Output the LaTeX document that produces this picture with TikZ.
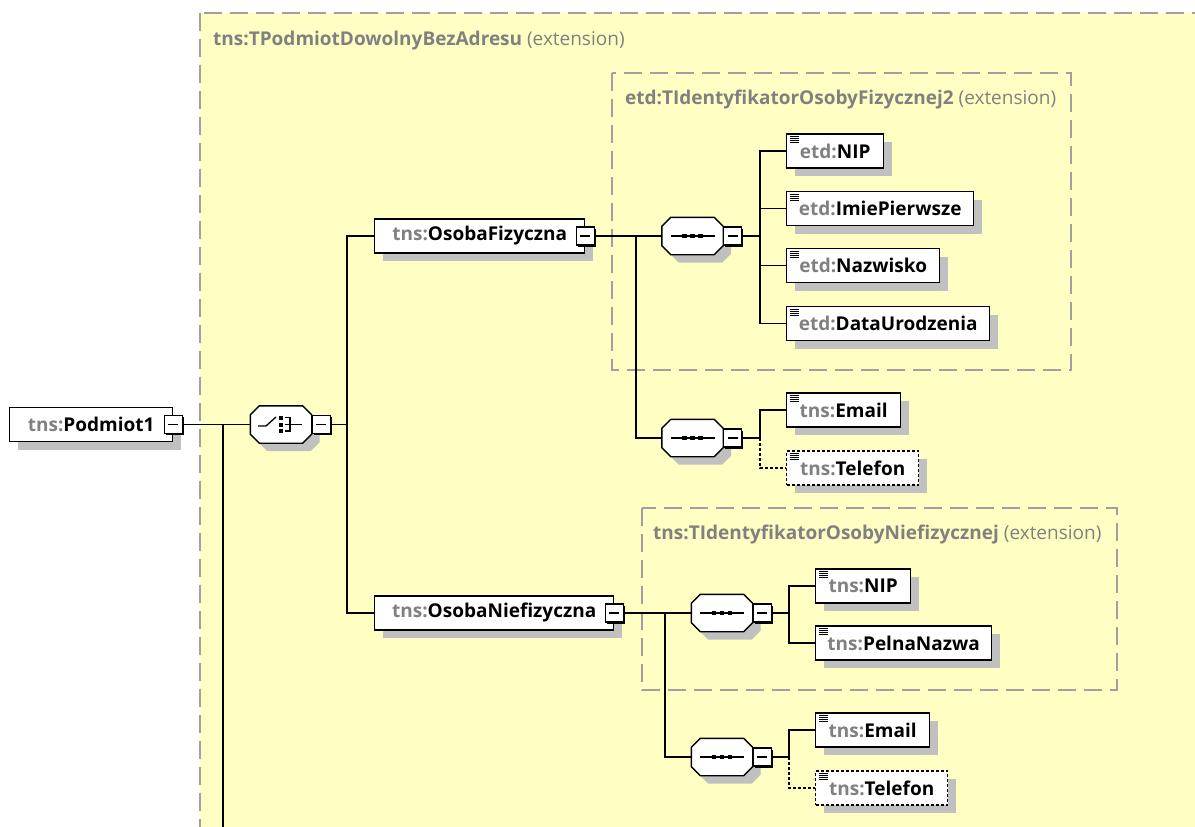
\documentclass[tikz,border=0pt]{standalone}
\usepackage{fontspec}
\setmainfont{Open Sans}
\usetikzlibrary{positioning,shadows}

\definecolor{xsdyellow}{HTML}{FFFFC4}
\definecolor{xsdgrey}{HTML}{808080}
\definecolor{xsdframe}{HTML}{A0A0A0}
\definecolor{xsdshadow}{HTML}{C0C0C0}
\newcommand{\xsdfont}{\fontsize{19}{22}\selectfont}
\newcommand{\pfx}[1]{{\color{xsdgrey}#1}}
\newcommand{\ext}{{\mdseries(extension)}}
\newcommand{\minusbar}{\rule{10pt}{1.2pt}}

\tikzset{
  frame/.style={draw=xsdframe, line width=1.2pt, dash pattern=on 18pt off 8pt},
  framelabel/.style={anchor=west, inner sep=0pt, font=\xsdfont\bfseries, text=xsdgrey},
  shade8/.style={drop shadow={shadow xshift=8pt, shadow yshift=-8pt, fill=xsdshadow, opacity=1}},
  box/.style={draw, line width=1.4pt, fill=white, anchor=west, minimum height=34pt,
    inner sep=0pt, font=\xsdfont\bfseries, shade8},
  elem/.style={box, path picture={
    \foreach \k in {0,1,2,3}
      \draw[solid, line width=0.7pt] ([xshift=3pt,yshift=-2.5pt-2*\k pt]path picture bounding box.north west) -- ++(9pt,0pt);}},
  optelem/.style={elem, dash pattern=on 3pt off 2pt},
  minus/.style={draw, line width=1.2pt, fill=white, minimum size=18pt, inner sep=0pt,
    drop shadow={shadow xshift=1.5pt, shadow yshift=-1.5pt, fill=black, opacity=1}},
  octo/.style={minimum width=61pt, minimum height=37pt, inner sep=0pt},
  octpath/.style={insert path={([xshift=9pt]#1.north west) -- ([xshift=-9pt]#1.north east)
    -- ([yshift=-9pt]#1.north east) -- ([yshift=9pt]#1.south east) -- ([xshift=-9pt]#1.south east)
    -- ([xshift=9pt]#1.south west) -- ([yshift=9pt]#1.south west) -- ([yshift=-9pt]#1.north west) -- cycle}},
  link/.style={line width=1.3pt},
  optlink/.style={line width=1.3pt, dash pattern=on 3pt off 2pt}
}

% octagon with shadow, then the model group marks
\newcommand{\drawoct}[1]{%
  \fill[xsdshadow, transform canvas={shift={(8pt,-8pt)}}, octpath=#1];
  \filldraw[fill=white, line width=1.4pt, octpath=#1];}
\newcommand{\seqmark}[1]{%
  \draw[line width=1.3pt] ([xshift=-22pt]#1.center) -- ([xshift=22pt]#1.center);
  \foreach \d in {-8,0,8}
    \fill ([xshift=\d pt]#1.center) +(-2.3pt,-2.3pt) rectangle +(2.3pt,2.3pt);}
\newcommand{\choicemark}[1]{%
  \begin{scope}[shift={(#1.center)}, line width=1.3pt]
    \draw (-23,1.5) -- (-15,1.5) -- (-5,-7.5);
    \foreach \yy in {-7,0,6.5}
      \fill (-2.5,\yy-2) rectangle (1.5,\yy+2);
    \draw (3.5,-7) -- (9,-7) -- (9,6.5) -- (3.5,6.5);
    \draw (3.5,0) -- (21,0);
  \end{scope}}

\begin{document}
\begin{tikzpicture}[x=1pt,y=-1pt]
\useasboundingbox (0,0) rectangle (1195,827);
\clip (0,0) rectangle (1195,827);

% type frames
\draw[frame, fill=xsdyellow] (200,13) rectangle (1220,850);
\node[framelabel] (lbltype) at (213,41) {tns:TPodmiotDowolnyBezAdresu \ext};
\draw[frame] (612,73) rectangle (1071,370);
\node[framelabel] (lblfiz) at (625,100) {etd:TIdentyfikatorOsobyFizycznej2 \ext};
\draw[frame] (642,508) rectangle (1117,690);
\node[framelabel] (lblniefiz) at (653,535) {tns:TIdentyfikatorOsobyNiefizycznej \ext};

% root and choice
\node[box, minimum width=163pt] (podmiot) at (9,424.5) {\pfx{tns:}Podmiot1};
\node[minus] (podmiotm) at (podmiot.east) {\minusbar};
\node[octo] (choice) at (281,424.5) {};
\drawoct{choice}
\choicemark{choice}
\node[minus, right=0pt of choice] (choicem) {\minusbar};
\coordinate (bus0) at (223,424.5);
\coordinate (bus0end) at (223,840);
\coordinate (bus1) at (347,424.5);

% OsobaFizyczna
\node[box, minimum width=210pt] (osf) at (374,236) {\pfx{tns:}OsobaFizyczna};
\node[minus] (osfm) at (osf.east) {\minusbar};
\coordinate (busa) at (636,236);
\node[octo] (seqa) at (692.5,236) {};
\drawoct{seqa}
\seqmark{seqa}
\node[minus, right=0pt of seqa] (seqam) {\minusbar};
\coordinate (busb) at (760,236);
\node[elem, minimum width=97pt] (fnip) at (786,151) {\pfx{etd:}NIP};
\node[elem, minimum width=187pt] (fimie) at (786,208.5) {\pfx{etd:}ImiePierwsze};
\node[elem, minimum width=153pt] (fnazw) at (786,265.5) {\pfx{etd:}Nazwisko};
\node[elem, minimum width=203pt] (fdata) at (786,323.5) {\pfx{etd:}DataUrodzenia};
\node[octo] (seqb) at (692.5,438) {};
\drawoct{seqb}
\seqmark{seqb}
\node[minus, right=0pt of seqb] (seqbm) {\minusbar};
\coordinate (busc) at (760,438);
\node[elem, minimum width=114pt] (femail) at (786,410) {\pfx{tns:}Email};
\node[optelem, minimum width=132pt] (ftel) at (786,468) {\pfx{tns:}Telefon};

% OsobaNiefizyczna
\node[box, minimum width=239pt] (osn) at (374,613) {\pfx{tns:}OsobaNiefizyczna};
\node[minus] (osnm) at (osn.east) {\minusbar};
\coordinate (busd) at (665,613);
\node[octo] (seqc) at (722,613) {};
\drawoct{seqc}
\seqmark{seqc}
\node[minus, right=0pt of seqc] (seqcm) {\minusbar};
\coordinate (buse) at (789,613);
\node[elem, minimum width=95pt] (nnip) at (815,586) {\pfx{tns:}NIP};
\node[elem, minimum width=176pt] (npelna) at (815,643) {\pfx{tns:}PelnaNazwa};
\node[octo] (seqd) at (722,757) {};
\drawoct{seqd}
\seqmark{seqd}
\node[minus, right=0pt of seqd] (seqdm) {\minusbar};
\coordinate (busf) at (789,757);
\node[elem, minimum width=114pt] (nemail) at (815,730) {\pfx{tns:}Email};
\node[optelem, minimum width=132pt] (ntel) at (815,788) {\pfx{tns:}Telefon};

% connectors
\draw[link] (podmiotm.east) -- (choice.west);
\draw[link] (bus0) -- (bus0end);
\draw[link] (choicem.east) -- (bus1);
\draw[link] (osf.west) -| (bus1) |- (osn.west);
\draw[link] (osfm.east) -- (seqa.west);
\draw[link] (busa) |- (seqb.west);
\draw[link] (seqam.east) -- (busb);
\draw[link] (fnip.west) -| (busb) |- (fdata.west);
\draw[link] (fimie.west) -| (busb);
\draw[link] (fnazw.west) -| (busb);
\draw[link] (seqbm.east) -- (busc) |- (femail.west);
\draw[optlink] (busc) |- (ftel.west);
\draw[link] (osnm.east) -- (seqc.west);
\draw[link] (busd) |- (seqd.west);
\draw[link] (seqcm.east) -- (buse);
\draw[link] (nnip.west) -| (buse) |- (npelna.west);
\draw[link] (seqdm.east) -- (busf) |- (nemail.west);
\draw[optlink] (busf) |- (ntel.west);
\end{tikzpicture}
\end{document}
